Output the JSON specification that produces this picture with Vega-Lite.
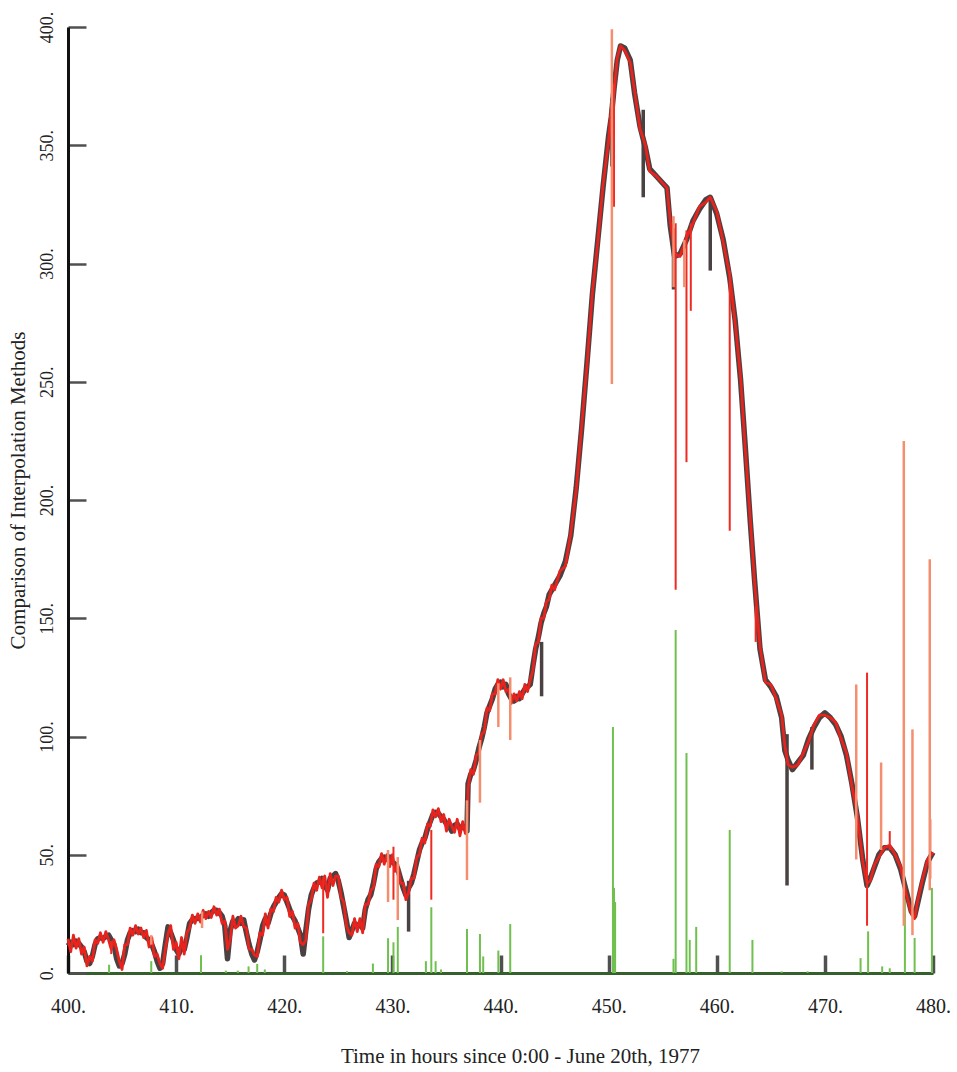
{
  "$schema": "https://vega.github.io/schema/vega-lite/v6.json",
  "width": 865,
  "height": 946,
  "autosize": {"type": "none"},
  "padding": {"left": 68, "top": 27, "right": 24, "bottom": 99},
  "background": "white",
  "config": {"view": {"stroke": null}},
  "datasets": {
    "main": [
      {"t":400.0,"g":11.5,"r":14.5},{"t":400.25,"g":13,"r":9},{"t":400.5,"g":12,"r":16},{"t":400.75,"g":13.5,"r":10.5},
      {"t":401.0,"g":12.5,"r":14.5},{"t":401.25,"g":11,"r":8},{"t":401.5,"g":9,"r":11},{"t":401.75,"g":5,"r":3},
      {"t":402.0,"g":4,"r":7},{"t":402.25,"g":7,"r":5},{"t":402.5,"g":12,"r":14},{"t":402.75,"g":14.5,"r":12.5},
      {"t":403.0,"g":15,"r":17},{"t":403.25,"g":14.5,"r":13},{"t":403.5,"g":15.5,"r":17.5},{"t":403.75,"g":16,"r":14},
      {"t":404.0,"g":14,"r":10},{"t":404.25,"g":12,"r":14},{"t":404.5,"g":6,"r":10},{"t":404.75,"g":3,"r":5},
      {"t":405.0,"g":4,"r":1.5},{"t":405.25,"g":8,"r":12},{"t":405.5,"g":14,"r":12},{"t":405.75,"g":17,"r":19},
      {"t":406.0,"g":18,"r":16},{"t":406.25,"g":17.5,"r":20},{"t":406.5,"g":18.5,"r":16.5},{"t":406.75,"g":17,"r":19},
      {"t":407.0,"g":17,"r":15},{"t":407.25,"g":15,"r":18},{"t":407.5,"g":14,"r":11},{"t":407.75,"g":12,"r":15},
      {"t":408.0,"g":9,"r":7},{"t":408.25,"g":5,"r":8},{"t":408.5,"g":2,"r":4},{"t":408.75,"g":4,"r":2},
      {"t":409.0,"g":12,"r":10},{"t":409.25,"g":19.5,"r":16.5},{"t":409.5,"g":17,"r":20},{"t":409.75,"g":14,"r":10},
      {"t":410.0,"g":10,"r":13},{"t":410.25,"g":8,"r":6},{"t":410.5,"g":11,"r":15},{"t":410.75,"g":10,"r":8},
      {"t":411.0,"g":15,"r":17},{"t":411.25,"g":21,"r":19},{"t":411.5,"g":22.5,"r":24.5},{"t":411.75,"g":23,"r":21},
      {"t":412.0,"g":23,"r":25},{"t":412.25,"g":23.5,"r":21.5},{"t":412.5,"g":24.5,"r":26.5},{"t":412.75,"g":25,"r":23},
      {"t":413.0,"g":24,"r":26},{"t":413.25,"g":25.5,"r":23.5},{"t":413.5,"g":26.5,"r":28},{"t":413.75,"g":26.5,"r":24.5},
      {"t":414.0,"g":25.5,"r":27},{"t":414.25,"g":24,"r":21},{"t":414.5,"g":20,"r":22},{"t":414.75,"g":6,"r":10},
      {"t":415.0,"g":18,"r":14},{"t":415.25,"g":22,"r":24},{"t":415.5,"g":21,"r":19},{"t":415.75,"g":23,"r":20},
      {"t":416.0,"g":21,"r":24},{"t":416.25,"g":22.5,"r":19.5},{"t":416.5,"g":17,"r":19},{"t":416.75,"g":12,"r":10},
      {"t":417.0,"g":8,"r":10},{"t":417.25,"g":5.5,"r":7.5},{"t":417.5,"g":9,"r":7},{"t":417.75,"g":14,"r":17},
      {"t":418.0,"g":20,"r":16},{"t":418.25,"g":23,"r":25},{"t":418.5,"g":21,"r":19},{"t":418.75,"g":25,"r":27},
      {"t":419.0,"g":28,"r":26},{"t":419.25,"g":30,"r":32},{"t":419.5,"g":32,"r":30},{"t":419.75,"g":33.5,"r":35},
      {"t":420.0,"g":33,"r":31},{"t":420.25,"g":30,"r":32},{"t":420.5,"g":27,"r":24},{"t":420.75,"g":24,"r":26},
      {"t":421.0,"g":22,"r":19},{"t":421.25,"g":19,"r":21},{"t":421.5,"g":16,"r":13},{"t":421.75,"g":8,"r":12},
      {"t":422.0,"g":18,"r":14},{"t":422.25,"g":27,"r":29},{"t":422.5,"g":33,"r":31},{"t":422.75,"g":36,"r":38},
      {"t":423.0,"g":38,"r":35},{"t":423.25,"g":38.5,"r":40.5},{"t":423.5,"g":40,"r":36},{"t":423.75,"g":37,"r":41},
      {"t":424.0,"g":35,"r":32},{"t":424.25,"g":40,"r":42},{"t":424.5,"g":41,"r":37},{"t":424.75,"g":42,"r":41},
      {"t":425.0,"g":39,"r":41},{"t":425.25,"g":34,"r":32},{"t":425.5,"g":28,"r":30},{"t":425.75,"g":22,"r":20},
      {"t":426.0,"g":15,"r":17},{"t":426.25,"g":18,"r":16},{"t":426.5,"g":21,"r":23},{"t":426.75,"g":19.5,"r":17.5},
      {"t":427.0,"g":21,"r":23},{"t":427.25,"g":19,"r":17},{"t":427.5,"g":27,"r":29},{"t":427.75,"g":31,"r":29},
      {"t":428.0,"g":33,"r":35},{"t":428.25,"g":38,"r":36},{"t":428.5,"g":44,"r":46},{"t":428.75,"g":47,"r":45},
      {"t":429.0,"g":48.5,"r":50.5},{"t":429.25,"g":49,"r":46},{"t":429.5,"g":48,"r":50},{"t":429.75,"g":49,"r":45},
      {"t":430.0,"g":47,"r":50},{"t":430.25,"g":46,"r":43},{"t":430.5,"g":44,"r":46},{"t":430.75,"g":40,"r":38},
      {"t":431.0,"g":36,"r":38},{"t":431.25,"g":33,"r":31},{"t":431.5,"g":36,"r":34},{"t":431.75,"g":38,"r":40},
      {"t":432.0,"g":42,"r":40},{"t":432.25,"g":47,"r":49},{"t":432.5,"g":52,"r":50},{"t":432.75,"g":55,"r":57},
      {"t":433.0,"g":57,"r":55},{"t":433.25,"g":61,"r":63},{"t":433.5,"g":64,"r":62},{"t":433.75,"g":67,"r":69},
      {"t":434.0,"g":68,"r":66},{"t":434.25,"g":67.5,"r":69.5},{"t":434.5,"g":66,"r":64},{"t":434.75,"g":65,"r":67},
      {"t":435.0,"g":63,"r":60},{"t":435.25,"g":62,"r":65},{"t":435.5,"g":60,"r":62},{"t":435.75,"g":62.5,"r":59.5},
      {"t":436.0,"g":63,"r":65},{"t":436.25,"g":61,"r":58},{"t":436.5,"g":62,"r":64},{"t":436.75,"g":61,"r":59},
      {"t":436.9,"g":60,"r":63},{"t":437.0,"g":80,"r":78},{"t":437.25,"g":84,"r":86},{"t":437.5,"g":86,"r":84},
      {"t":437.75,"g":90,"r":92},{"t":438.0,"g":95,"r":93},{"t":438.25,"g":99,"r":101},{"t":438.5,"g":104,"r":102},
      {"t":438.75,"g":110,"r":112},{"t":439.0,"g":113,"r":111},{"t":439.25,"g":116,"r":118},{"t":439.5,"g":120,"r":118},
      {"t":439.75,"g":122,"r":124},{"t":440.0,"g":123,"r":120},{"t":440.25,"g":121,"r":124},{"t":440.5,"g":122,"r":119},
      {"t":440.75,"g":118,"r":120},{"t":441.0,"g":116,"r":114},{"t":441.25,"g":115,"r":118},{"t":441.5,"g":117,"r":115},
      {"t":441.75,"g":116,"r":119},{"t":442.0,"g":118,"r":116},{"t":442.25,"g":120,"r":122},{"t":442.5,"g":121,"r":119},
      {"t":442.75,"g":122,"r":124},{"t":443.0,"g":130,"r":128},{"t":443.25,"g":137,"r":139},{"t":443.5,"g":142,"r":140},
      {"t":443.75,"g":148,"r":150},{"t":444.0,"g":152,"r":150},{"t":444.25,"g":155,"r":157},{"t":444.5,"g":160,"r":158},
      {"t":444.75,"g":162,"r":164},{"t":445.0,"g":164,"r":162},{"t":445.5,"g":168,"r":170},{"t":446.0,"g":174,"r":172},
      {"t":446.5,"g":185,"r":186},{"t":447.0,"g":205,"r":204},{"t":447.5,"g":230,"r":231},{"t":448.0,"g":258,"r":257},
      {"t":448.5,"g":287,"r":288},{"t":449.0,"g":310,"r":309},{"t":449.5,"g":333,"r":334},{"t":450.0,"g":354,"r":352},
      {"t":450.25,"g":362,"r":366},{"t":450.5,"g":374,"r":372},{"t":450.8,"g":386,"r":387},{"t":451.1,"g":392,"r":392},
      {"t":451.5,"g":391,"r":390},{"t":452.0,"g":386,"r":385},{"t":452.4,"g":372,"r":373},{"t":452.9,"g":358,"r":357},
      {"t":453.4,"g":349,"r":350},{"t":453.8,"g":340,"r":339},{"t":454.4,"g":337,"r":337},{"t":455.4,"g":332,"r":332},
      {"t":455.7,"g":316,"r":318},{"t":456.1,"g":303,"r":304},{"t":456.6,"g":304,"r":303},{"t":457.2,"g":310,"r":311},
      {"t":457.8,"g":318,"r":317},{"t":458.4,"g":323,"r":324},{"t":459.0,"g":327,"r":326},{"t":459.4,"g":328,"r":328},
      {"t":460.0,"g":321,"r":322},{"t":460.6,"g":310,"r":309},{"t":461.2,"g":294,"r":295},{"t":461.7,"g":276,"r":275},
      {"t":462.2,"g":251,"r":252},{"t":462.6,"g":225,"r":224},{"t":463.1,"g":191,"r":192},{"t":463.5,"g":166,"r":165},
      {"t":464.0,"g":137,"r":138},{"t":464.5,"g":124,"r":123},{"t":465.0,"g":121,"r":122},{"t":465.5,"g":117,"r":116},
      {"t":466.0,"g":108,"r":109},{"t":466.3,"g":94,"r":96},{"t":466.6,"g":90,"r":88},{"t":467.0,"g":86,"r":87},
      {"t":467.5,"g":89,"r":88},{"t":468.0,"g":92,"r":93},{"t":468.5,"g":99,"r":98},{"t":469.0,"g":104,"r":105},
      {"t":469.5,"g":108,"r":109},{"t":470.0,"g":110,"r":109},{"t":470.5,"g":108,"r":108},{"t":471.0,"g":105,"r":106},
      {"t":471.5,"g":100,"r":99},{"t":472.0,"g":92,"r":93},{"t":472.5,"g":80,"r":79},{"t":473.0,"g":66,"r":67},
      {"t":473.5,"g":48,"r":47},{"t":473.9,"g":37,"r":38},{"t":474.2,"g":40,"r":39},{"t":474.6,"g":45,"r":46},
      {"t":475.0,"g":50,"r":49},{"t":475.5,"g":53,"r":53},{"t":476.0,"g":53,"r":54},{"t":476.5,"g":50,"r":50},
      {"t":477.0,"g":44,"r":45},{"t":477.5,"g":35,"r":34},{"t":478.0,"g":26,"r":25},{"t":478.3,"g":24,"r":23},
      {"t":478.6,"g":30,"r":31},{"t":479.0,"g":38,"r":39},{"t":479.5,"g":47,"r":48},{"t":480.0,"g":51,"r":51}
    ],
    "spikes": [
      {"t":404.0,"y":13.5,"y2":8,"k":"red"},
      {"t":407.7,"y":16,"y2":12,"k":"orange"},
      {"t":412.4,"y":26,"y2":19,"k":"orange"},
      {"t":423.6,"y":40.7,"y2":16.8,"k":"red"},
      {"t":429.6,"y":52,"y2":30,"k":"orange"},
      {"t":430.1,"y":53.4,"y2":31,"k":"red"},
      {"t":430.5,"y":49,"y2":22.4,"k":"orange"},
      {"t":433.6,"y":60.5,"y2":31,"k":"red"},
      {"t":436.9,"y":73,"y2":39.3,"k":"orange"},
      {"t":438.1,"y":98.5,"y2":72,"k":"orange"},
      {"t":439.8,"y":122.5,"y2":104,"k":"orange"},
      {"t":440.9,"y":125,"y2":98.5,"k":"orange"},
      {"t":450.3,"y":399,"y2":249,"k":"orange"},
      {"t":450.5,"y":376,"y2":324,"k":"red"},
      {"t":456.0,"y":320,"y2":290,"k":"orange"},
      {"t":456.2,"y":317,"y2":162,"k":"red"},
      {"t":457.0,"y":310,"y2":290,"k":"orange"},
      {"t":457.2,"y":314,"y2":216,"k":"red"},
      {"t":457.6,"y":317,"y2":280,"k":"red"},
      {"t":461.2,"y":297,"y2":187,"k":"red"},
      {"t":463.6,"y":155,"y2":140,"k":"red"},
      {"t":472.9,"y":122,"y2":48,"k":"orange"},
      {"t":473.9,"y":127,"y2":20,"k":"red"},
      {"t":475.2,"y":89,"y2":52,"k":"orange"},
      {"t":476.0,"y":60,"y2":52,"k":"red"},
      {"t":477.3,"y":225,"y2":20,"k":"orange"},
      {"t":478.1,"y":103,"y2":16,"k":"orange"},
      {"t":479.7,"y":175,"y2":35,"k":"orange"},
      {"t":479.75,"y":65,"y2":40,"k":"red"},
      {"t":431.5,"y":39,"y2":17.5,"k":"gray"},
      {"t":443.8,"y":140,"y2":117,"k":"gray"},
      {"t":450.3,"y":370,"y2":341,"k":"gray"},
      {"t":453.2,"y":365,"y2":328,"k":"gray"},
      {"t":456.0,"y":315,"y2":289,"k":"gray"},
      {"t":459.4,"y":328,"y2":297,"k":"gray"},
      {"t":466.5,"y":101,"y2":37,"k":"gray"},
      {"t":468.8,"y":104,"y2":86,"k":"gray"}
    ],
    "green": [
      {"t":403.8,"y":3.5},{"t":407.7,"y":5},{"t":412.3,"y":7.5},{"t":414.6,"y":1},{"t":415.7,"y":1},
      {"t":416.7,"y":2.8},{"t":417.5,"y":3.8},{"t":418.2,"y":1.5},{"t":423.6,"y":15.5},{"t":425.8,"y":0.8},
      {"t":428.2,"y":4},{"t":429.6,"y":14.7},{"t":430.1,"y":13},{"t":430.5,"y":19.5},{"t":433.1,"y":5},
      {"t":433.6,"y":27.8},{"t":434.0,"y":5},{"t":434.5,"y":1.5},{"t":436.9,"y":18.6},{"t":438.1,"y":16.5},
      {"t":438.4,"y":7},{"t":439.8,"y":9.5},{"t":440.9,"y":20.7},{"t":450.4,"y":104},{"t":450.5,"y":36},
      {"t":450.6,"y":30},{"t":456.0,"y":6},{"t":456.2,"y":145},{"t":457.2,"y":93},{"t":457.5,"y":14},
      {"t":458.1,"y":19.5},{"t":461.2,"y":60.5},{"t":463.3,"y":14},{"t":466.0,"y":0.7},{"t":468.4,"y":0.7},
      {"t":473.3,"y":6.3},{"t":474.0,"y":17.6},{"t":475.3,"y":2.8},{"t":476.0,"y":2},{"t":477.4,"y":40},
      {"t":478.3,"y":14.8},{"t":479.9,"y":36}
    ]
  },
  "encoding": {
    "x": {
      "field": "t", "type": "quantitative",
      "scale": {"domain": [400, 480], "nice": false, "zero": false},
      "axis": {
        "values": [400, 410, 420, 430, 440, 450, 460, 470, 480],
        "labelExpr": "datum.value + '.'",
        "grid": false, "labelFlush": false, "labelOverlap": false,
        "domainColor": "#35602d", "domainWidth": 3,
        "tickColor": "#505050", "tickWidth": 3.5, "tickSize": -18,
        "labelPadding": 41, "labelFont": "Liberation Serif", "labelFontSize": 20, "labelColor": "#222",
        "title": "Time in hours since 0:00 - June 20th, 1977",
        "titleFont": "Liberation Serif", "titleFontSize": 21, "titleFontWeight": "normal", "titleColor": "#222",
        "titleX": 452, "titleY": 89, "titleBaseline": "alphabetic", "titleAlign": "center"
      }
    },
    "y": {
      "field": "y", "type": "quantitative",
      "scale": {"domain": [0, 400], "nice": false},
      "axis": {
        "values": [0, 50, 100, 150, 200, 250, 300, 350, 400],
        "labelExpr": "datum.value + '.'",
        "grid": false, "labelFlush": false, "labelOverlap": false,
        "labelAngle": -90, "labelAlign": "center", "labelBaseline": "bottom",
        "domainColor": "#111", "domainWidth": 3,
        "tickColor": "#505050", "tickWidth": 2.5, "tickSize": -18,
        "labelPadding": 30, "labelFont": "Liberation Serif", "labelFontSize": 18, "labelColor": "#222",
        "title": "Comparison of Interpolation Methods",
        "titleFont": "Liberation Serif", "titleFontSize": 21, "titleFontWeight": "normal", "titleColor": "#222",
        "titleX": -40, "titleY": 463, "titleAngle": -90, "titleBaseline": "bottom", "titleAlign": "center"
      }
    }
  },
  "layer": [
    {
      "data": {"name": "green"},
      "mark": {"type": "rule", "color": "#6fc04f", "strokeWidth": 2},
      "encoding": {"y2": {"datum": 0}}
    },
    {
      "data": {"name": "main"},
      "transform": [{"fold": ["g"], "as": ["s", "y"]}],
      "mark": {"type": "line", "color": "#4a4242", "strokeWidth": 5.5, "strokeJoin": "round"},
      "encoding": {}
    },
    {
      "data": {"name": "spikes"},
      "transform": [{"filter": "datum.k === 'gray'"}],
      "mark": {"type": "rule", "color": "#4a4242", "strokeWidth": 3.5},
      "encoding": {"y2": {"field": "y2"}}
    },
    {
      "data": {"name": "main"},
      "transform": [{"fold": ["r"], "as": ["s", "y"]}],
      "mark": {"type": "line", "color": "#e8231d", "strokeWidth": 2.8, "strokeJoin": "round"},
      "encoding": {}
    },
    {
      "data": {"name": "spikes"},
      "transform": [{"filter": "datum.k === 'red'"}],
      "mark": {"type": "rule", "color": "#ee2a22", "strokeWidth": 2},
      "encoding": {"y2": {"field": "y2"}}
    },
    {
      "data": {"name": "spikes"},
      "transform": [{"filter": "datum.k === 'orange'"}],
      "mark": {"type": "rule", "color": "#f58e6e", "strokeWidth": 2.5},
      "encoding": {"y2": {"field": "y2"}}
    }
  ]
}
